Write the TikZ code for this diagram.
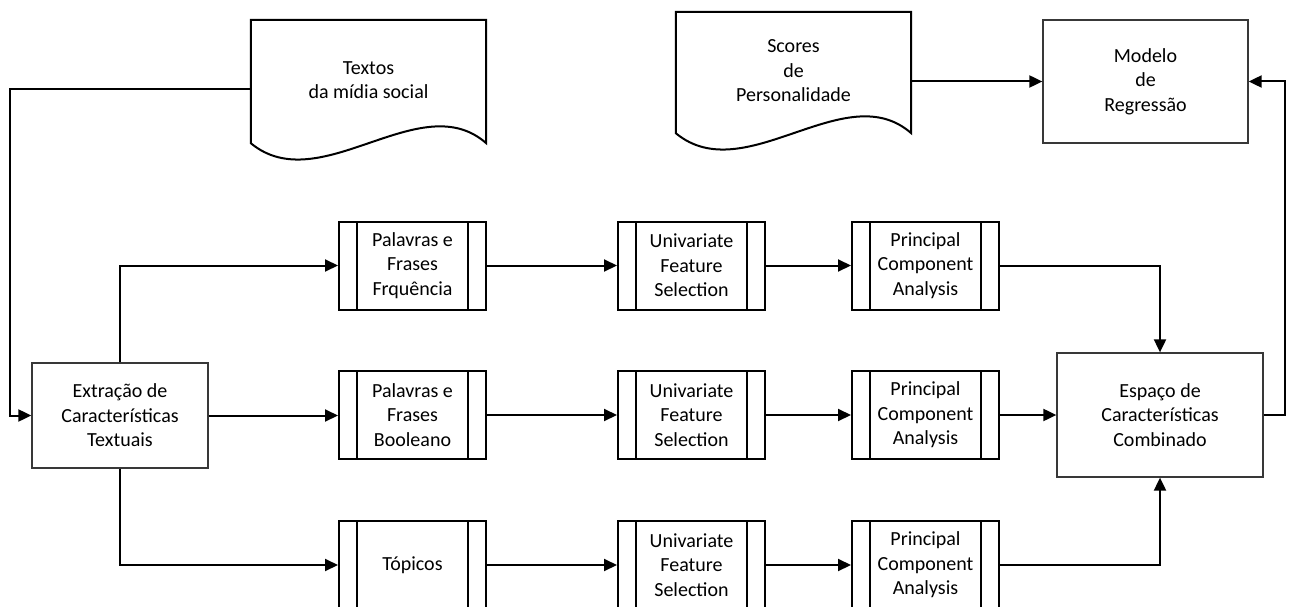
\documentclass[tikz,border=0pt]{standalone}
\usepackage{fontspec}
\setmainfont{Carlito}
\usetikzlibrary{arrows.meta,calc}

\tikzset{
  conn/.style={line width=2pt, -{Triangle[length=13pt,width=12pt]}},
  docline/.style={draw, line width=2pt},
  docnode/.style={minimum width=235pt, inner sep=0pt, align=center},
  plainbox/.style={draw=black!78, line width=1.3pt, inner sep=0pt, align=center},
  procbox/.style={draw, line width=2pt, minimum width=147pt, minimum height=88pt,
    inner sep=0pt, align=center,
    path picture={
      \draw[line width=2pt]
        ([xshift=18pt]path picture bounding box.north west) --
        ([xshift=18pt]path picture bounding box.south west)
        ([xshift=-18pt]path picture bounding box.north east) --
        ([xshift=-18pt]path picture bounding box.south east);
    }},
}

% document symbol: flat top, wavy bottom edge
\newcommand{\docoutline}[1]{%
  \draw[docline] (#1.south west) -- (#1.north west) -- (#1.north east) -- (#1.south east)
    .. controls ($(#1.south east)+(-66,-58)$) and ($(#1.south west)+(69,57)$) .. (#1.south west) -- cycle;}

\newcommand{\lines}[1]{\begin{tabular}{@{}c@{}}#1\end{tabular}}

\begin{document}
\begin{tikzpicture}[x=1pt, y=-1pt, font=\fontsize{20}{24.4}\selectfont]
  \useasboundingbox (0,0) rectangle (1292,607);
  \clip (0,0) rectangle (1292,607);

  % inputs
  \node[docnode, minimum height=123pt] (txt) at (368.5,81.5)
    {\raisebox{8pt}{\lines{Textos\\da mídia social}}};
  \docoutline{txt}
  \node[docnode, minimum height=121pt] (sc) at (793.5,72.5)
    {\raisebox{8pt}{\lines{Scores\\de\\Personalidade}}};
  \docoutline{sc}

  \node[plainbox, minimum width=205pt, minimum height=123pt] (mod) at (1145.5,81.5)
    {Modelo\\de\\Regressão};
  \node[plainbox, minimum width=176pt, minimum height=105pt] (ext) at (120,415.5)
    {Extração de\\Características\\Textuais};
  \node[plainbox, minimum width=206pt, minimum height=124pt] (esp) at (1160,415)
    {Espaço de\\Características\\Combinado};

  % three processing branches
  \node[procbox] (p11) at (412.5,265.5) {Palavras e\\Frases\\Frquência};
  \node[procbox] (p12) at (691.5,265.5) {Univariate\\Feature\\Selection};
  \node[procbox] (p13) at (925.5,265.5) {Principal\\Component\\Analysis};

  \node[procbox] (p21) at (412.5,415) {Palavras e\\Frases\\Booleano};
  \node[procbox] (p22) at (691.5,415) {Univariate\\Feature\\Selection};
  \node[procbox] (p23) at (925.5,415) {Principal\\Component\\Analysis};

  \node[procbox] (p31) at (412.5,565) {Tópicos};
  \node[procbox] (p32) at (691.5,565) {Univariate\\Feature\\Selection};
  \node[procbox] (p33) at (925.5,565) {Principal\\Component\\Analysis};

  % connectors
  \draw[conn] ([yshift=-7.5pt]txt.west) -- ++(-241,0) |- (ext.west);
  \draw[conn] (sc.east |- mod.west) -- (mod.west);

  \draw[conn] (ext.north) |- (p11.west);
  \draw[conn] (ext.east) -- (ext.east -| p21.west);
  \draw[conn] (ext.south) |- (p31.west);

  \draw[conn] (p11) -- (p12);
  \draw[conn] (p12) -- (p13);
  \draw[conn] (p21) -- (p22);
  \draw[conn] (p22) -- (p23);
  \draw[conn] (p31) -- (p32);
  \draw[conn] (p32) -- (p33);

  \draw[conn] (p13.east) -| (esp.north);
  \draw[conn] (p23.east) -- (p23.east -| esp.west);
  \draw[conn] (p33.east) -| (esp.south);

  \draw[conn] (esp.east) -- ++(21,0) |- (mod.east);
\end{tikzpicture}
\end{document}
